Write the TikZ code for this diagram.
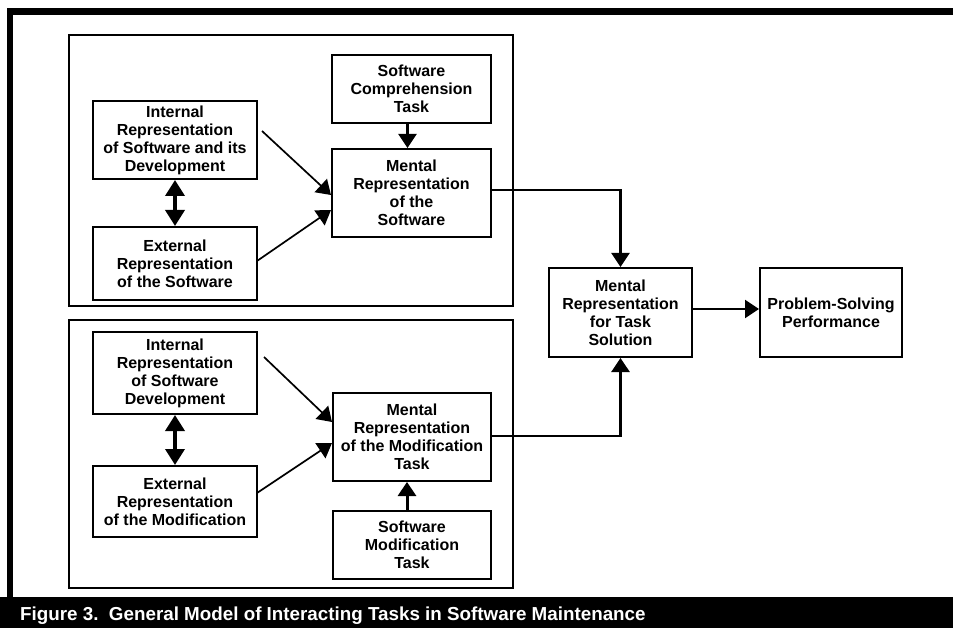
\documentclass[tikz,border=0pt]{standalone}
\usepackage{fontspec}
\setmainfont{Liberation Sans}
\usetikzlibrary{arrows.meta,calc}

\tikzset{
  box/.style={draw, line width=2pt, fill=white, align=center, inner sep=0pt,
    font=\bfseries\fontsize{16}{18}\selectfont},
  group/.style={draw, line width=2pt},
  tip/.style={-{Triangle[width=18pt,length=14pt]}},
  dtip/.style={{Triangle[width=19pt,length=16pt]}-{Triangle[width=19pt,length=16pt]}},
  thinlink/.style={tip, line width=1.7pt},
  flow/.style={tip, line width=2.2pt},
  boldlink/.style={dtip, line width=3.6pt},
}

\begin{document}
\begin{tikzpicture}[x=1pt, y=-1pt]
  % page and dark frame
  \useasboundingbox (0,0) rectangle (953,628);
  \fill[white] (0,0) rectangle (953,628);
  \fill[black] (7,8) rectangle (953,15);
  \fill[black] (7,8) rectangle (13,597);
  \fill[black] (0,597) rectangle (953,628);
  \node[anchor=base west, text=white, inner sep=0pt,
        font=\bfseries\fontsize{18.8}{20}\selectfont] (caption) at (20,620)
    {Figure 3.\ \ General Model of Interacting Tasks in Software Maintenance};

  % the two task groups
  \draw[group] (69,35) rectangle (513,306);
  \draw[group] (69,320) rectangle (513,588);

  % comprehension group
  \node[box, minimum width=164, minimum height=78] (ir1) at (175,140)
    {Internal\\Representation\\of Software and its\\Development};
  \node[box, minimum width=164, minimum height=73] (er1) at (175,263.5)
    {External\\Representation\\of the Software};
  \node[box, minimum width=159, minimum height=68] (sct) at (411.5,89)
    {Software\\Comprehension\\Task};
  \node[box, minimum width=159, minimum height=88] (mrs) at (411.5,193)
    {Mental\\Representation\\of the\\Software};

  % modification group
  \node[box, minimum width=164, minimum height=82] (ir2) at (175,373)
    {Internal\\Representation\\of Software\\Development};
  \node[box, minimum width=164, minimum height=71] (er2) at (175,501.5)
    {External\\Representation\\of the Modification};
  \node[box, minimum width=158, minimum height=88] (mrmt) at (412,437)
    {Mental\\Representation\\of the Modification\\Task};
  \node[box, minimum width=158, minimum height=68] (smt) at (412,545)
    {Software\\Modification\\Task};

  % combined stage
  \node[box, minimum width=143, minimum height=89] (mrts) at (620.5,312.5)
    {Mental\\Representation\\for Task\\Solution};
  \node[box, minimum width=142, minimum height=89] (psp) at (831,312.5)
    {Problem-Solving\\Performance};

  % connectors, comprehension group
  \draw[boldlink] (ir1.south) -- (er1.north);
  \draw[thinlink] ($(ir1.east)+(4,-9)$) -- ($(mrs.west)+(0,2)$);
  \draw[thinlink] ($(er1.east)+(-1,-2.5)$) -- ($(mrs.west)+(0,17)$);
  \draw[tip, line width=2.3pt] ([xshift=-4pt]sct.south) -- ([xshift=-4pt]mrs.north);

  % connectors, modification group
  \draw[boldlink] (ir2.south) -- (er2.north);
  \draw[thinlink] ($(ir2.east)+(6,-16)$) -- ($(mrmt.west)+(0,-15)$);
  \draw[thinlink] ($(er2.east)+(-1,-8.5)$) -- ($(mrmt.west)+(0,6)$);
  \draw[tip, line width=3pt] ([xshift=-5pt]smt.north) -- ([xshift=-5pt]mrmt.south);

  % into the combined stage
  \draw[flow] ($(mrs.east)+(0,-3)$) -| (mrts.north);
  \draw[tip, line width=2.6pt] ($(mrmt.east)+(0,-1)$) -| (mrts.south);
  \draw[flow] ($(mrts.east)+(0,-3.5)$) -- ($(psp.west)+(0,-3.5)$);
\end{tikzpicture}
\end{document}
